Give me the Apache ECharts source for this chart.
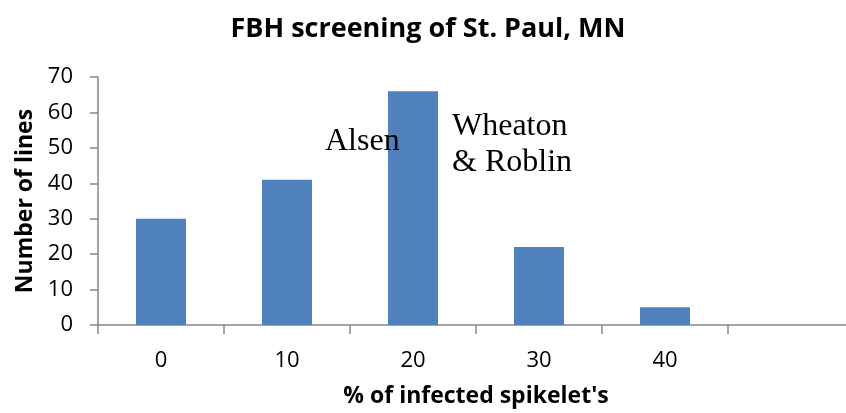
<!DOCTYPE html>
<html>
<head>
<meta charset="utf-8">
<script src="https://cdn.jsdelivr.net/npm/echarts@6/dist/echarts.min.js"></script>
<style>
  html, body { margin: 0; padding: 0; background: #fff; overflow: hidden; }
  /* plot runs past the right edge in the reference, so the canvas is a bit wider than the window */
  #main { width: 856px; height: 413px; }
</style>
</head>
<body>
<div id="main"></div>
<script>
// data
const categories = ['0', '10', '20', '30', '40', ''];
const lineCounts = [30, 41, 66, 22, 5, null];
const yTicks = [0, 10, 20, 30, 40, 50, 60, 70];

const sans = '"Open Sans", "Noto Sans", sans-serif';
const serif = '"Liberation Serif", "DejaVu Serif", serif';
const axisGrey = '#868686';

const myChart = echarts.init(document.getElementById('main'));
myChart.setOption({
  animation: false,
  title: {
    text: 'FBH screening of St. Paul, MN',
    left: 423,
    textAlign: 'center',
    top: 11,
    textStyle: { fontFamily: sans, fontSize: 27, fontWeight: 'bold', color: '#000' },
  },
  grid: { left: 98, top: 77, right: 2, bottom: 87 },
  xAxis: {
    type: 'category',
    data: categories,
    name: "% of infected spikelet's",
    nameLocation: 'middle',
    nameGap: 60,
    nameTextStyle: { fontFamily: sans, fontSize: 23, fontWeight: 'bold', color: '#000' },
    axisLine: { lineStyle: { color: axisGrey, width: 1.5 } },
    axisTick: { show: true, length: 9, interval: 0, lineStyle: { color: axisGrey, width: 1.5 } },
    axisLabel: { fontFamily: sans, fontSize: 22, color: '#000', margin: 25, interval: 0 },
    splitLine: { show: false },
  },
  yAxis: {
    type: 'value',
    min: yTicks[0],
    max: yTicks[yTicks.length - 1],
    interval: 10,
    name: 'Number of lines',
    nameLocation: 'middle',
    nameGap: 58,
    nameTextStyle: { fontFamily: sans, fontSize: 23, fontWeight: 'bold', color: '#000' },
    axisLine: { show: true, lineStyle: { color: axisGrey, width: 1.5 } },
    axisTick: { show: true, length: 8, lineStyle: { color: axisGrey, width: 1.5 } },
    axisLabel: { fontFamily: sans, fontSize: 22, color: '#000', margin: 25 },
    splitLine: { show: false },
  },
  series: [{
    name: 'Number of lines',
    type: 'bar',
    data: lineCounts,
    barWidth: 50,
    itemStyle: { color: '#4f81bd' },
  }],
  graphic: [
    {
      type: 'text',
      z: 100,
      style: {
        text: 'Alsen', x: 325, y: 142,
        font: '32px ' + serif, fill: '#000',
        textAlign: 'left', textVerticalAlign: 'middle',
      },
    },
    {
      type: 'text',
      z: 100,
      style: {
        text: 'Wheaton\n& Roblin', x: 452, y: 145,
        font: '32px ' + serif, fill: '#000', lineHeight: 36,
        textAlign: 'left', textVerticalAlign: 'middle',
      },
    },
  ],
});
</script>
</body>
</html>
